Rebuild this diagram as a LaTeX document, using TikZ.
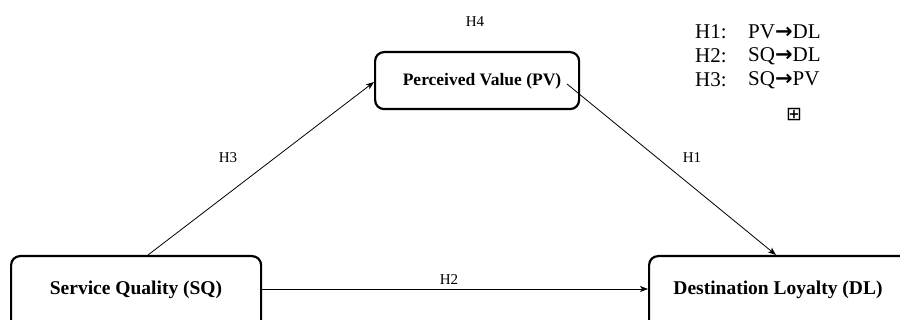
\documentclass[tikz,border=0pt]{standalone}
\usepackage{fontspec}
\setmainfont{Liberation Serif}
\newfontfamily\symfont{DejaVu Sans}
\usetikzlibrary{arrows.meta}
\tikzset{
  box/.style={draw, line width=2.2pt, rounded corners=9pt, inner sep=0pt},
  btext/.style={font=\bfseries\fontsize{19.5}{22}\selectfont},
  link/.style={draw, line width=0.8pt, -{Stealth[length=8pt,width=6pt,inset=2pt]}},
  hlab/.style={font=\fontsize{15}{17}\selectfont},
  leg/.style={font=\fontsize{21}{24}\selectfont, anchor=west, inner sep=0pt}
}
\newcommand{\rarr}{{\symfont\bfseries →}}
\begin{document}
\begin{tikzpicture}[x=1pt,y=-1pt]
\useasboundingbox (0,0) rectangle (900,320);
\clip (0,0) rectangle (900,320);
\node[box, minimum width=250pt, minimum height=90pt, anchor=north west] (sq) at (10,255) {};
\node[btext] (sqt) at (136,290) {Service Quality (SQ)};
\node[box, minimum width=280pt, minimum height=90pt, anchor=north west] (dl) at (648,255) {};
\node[btext] (dlt) at (778,290) {Destination Loyalty (DL)};
\node[box, minimum width=204pt, minimum height=57pt, anchor=north west] (pv) at (374,51) {};
\node[btext, font=\bfseries\fontsize{17.5}{20}\selectfont] (pvt) at (482,81) {Perceived Value (PV)};
\coordinate (sqtop) at (148,255);
\coordinate (pvleft) at (374,82);
\coordinate (pvright) at (567,84);
\coordinate (dltop) at (776,255);
\coordinate (sqright) at (260,289);
\coordinate (dlleft) at (648,289);
\draw[link] (sqtop) -- (pvleft);
\draw[link] (pvright) -- (dltop);
\draw[link] (sqright) -- (dlleft);
\node[hlab] (h4) at (475,22) {H4};
\node[hlab] (h3) at (228,158) {H3};
\node[hlab] (h1) at (692,158) {H1};
\node[hlab] (h2) at (449,280) {H2};
\node[leg] (l1) at (695,32) {H1:};
\node[leg] (l1b) at (748,32) {PV\rarr DL};
\node[leg] (l2) at (695,56) {H2:};
\node[leg] (l2b) at (748,56) {SQ\rarr DL};
\node[leg] (l3) at (695,80) {H3:};
\node[leg] (l3b) at (748,80) {SQ\rarr PV};
\node[font=\symfont\fontsize{19}{21}\selectfont, inner sep=0pt] (plus) at (794,115) {⊞};
\end{tikzpicture}
\end{document}
